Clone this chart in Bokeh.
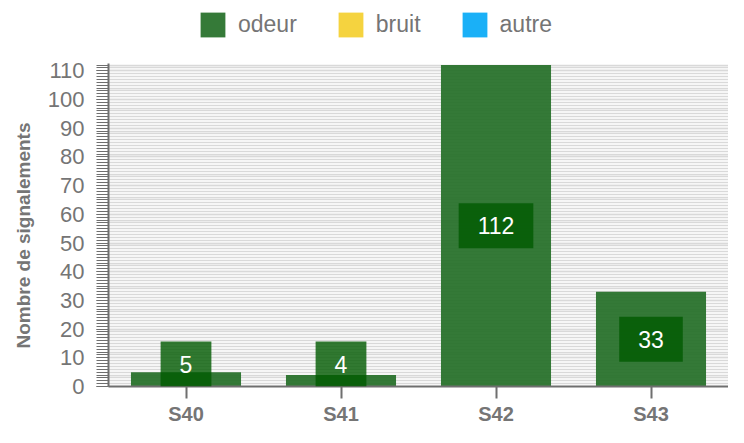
from bokeh.plotting import figure
from bokeh.models import (ColumnDataSource, Legend, LegendItem, Label, Title,
                          SingleIntervalTicker, Range1d, FactorRange)
from bokeh.embed import file_html
from bokeh.resources import INLINE

weeks = ["S40", "S41", "S42", "S43"]
odeur = [5, 4, 112, 33]
bruit = [0, 0, 0, 0]
autre = [0, 0, 0, 0]
series = ["odeur", "bruit", "autre"]
colors = ["#1f6b22", "#f5d33f", "#1ab0f7"]
y_axis_max = 112.7
y_title = "Nombre de signalements"

FONT = "Liberation Sans"
GRAY = "#757575"

src = ColumnDataSource(dict(week=weeks, odeur=odeur, bruit=bruit, autre=autre))

# the frame reaches the top of the canvas so the legend can sit above the axis;
# the axis and grid stop at y_axis_max through their bounds
p = figure(x_range=FactorRange(*weeks, range_padding=0),
           y_range=Range1d(0, 134.5),
           width=728, height=427, output_backend="svg", toolbar_location=None,
           min_border_left=106, min_border_right=0, min_border_top=0,
           min_border_bottom=0)
p.outline_line_color = None
p.background_fill_color = "white"
p.border_fill_color = "white"

rs = p.vbar_stack(series, x="week", width=0.71, source=src, color=colors,
                  fill_alpha=0.9, line_color=None)
rs[1].glyph.fill_alpha = 1
rs[2].glyph.fill_alpha = 1

# y axis
ya = p.yaxis[0]
ya.bounds = (0, y_axis_max)
ya.ticker = SingleIntervalTicker(interval=10, num_minor_ticks=10)
ya.axis_line_color = "#6f6f6f"
ya.axis_line_width = 2
ya.major_tick_line_color = "#6f6f6f"
ya.minor_tick_line_color = "#6f6f6f"
ya.major_tick_in = 0
ya.minor_tick_in = 0
ya.major_tick_out = 12
ya.minor_tick_out = 12
ya.major_label_standoff = 12
ya.major_label_text_font = FONT
ya.major_label_text_font_size = "22px"
ya.major_label_text_color = GRAY

# y title, placed along the drawn part of the axis
p.add_layout(Title(text=y_title, align="left", offset=38,
                   text_font=FONT, text_font_style="bold",
                   text_font_size="19px", text_color=GRAY,
                   standoff=21), "left")

# grid
p.xgrid.grid_line_color = None
p.ygrid.bounds = (0, y_axis_max)
p.ygrid.grid_line_color = "#d9d9d9"
p.ygrid.grid_line_width = 1.5
p.ygrid.minor_grid_line_color = "#d9d9d9"
p.ygrid.minor_grid_line_width = 1.5
p.ygrid.level = "underlay"

# x axis
xa = p.xaxis[0]
xa.axis_line_color = "#6f6f6f"
xa.axis_line_width = 2
xa.major_tick_line_color = "#6f6f6f"
xa.major_tick_line_width = 2
xa.major_tick_in = 0
xa.major_tick_out = 12
xa.minor_tick_line_color = None
xa.major_label_standoff = 4
xa.major_label_text_font = FONT
xa.major_label_text_font_style = "bold"
xa.major_label_text_font_size = "20px"
xa.major_label_text_color = GRAY

# value labels (factor i sits at i + 0.5 on the categorical scale)
for i, v in enumerate(odeur):
    if v < 15:
        y, anchor = 0, "bottom_center"
    else:
        y, anchor = v / 2, "center"
    p.add_layout(Label(x=i + 0.5, y=y, text=str(v), anchor=anchor,
                       text_align="center", text_baseline="middle",
                       text_font=FONT, text_font_size="23px", text_color="white",
                       background_fill_color="#005a00", background_fill_alpha=0.8,
                       padding=dict(left=19, right=19, top=14, bottom=14)))

legend = Legend(items=[LegendItem(label=s, renderers=[r]) for s, r in zip(series, rs)],
                orientation="horizontal", location=(89, 346),
                glyph_width=31, glyph_height=31, label_standoff=10, spacing=38,
                label_text_font=FONT, label_text_font_size="23px",
                label_text_color=GRAY, padding=0, margin=0,
                border_line_color=None, background_fill_alpha=0)
p.add_layout(legend, "center")

open("out.html", "w").write(file_html(p, INLINE))
